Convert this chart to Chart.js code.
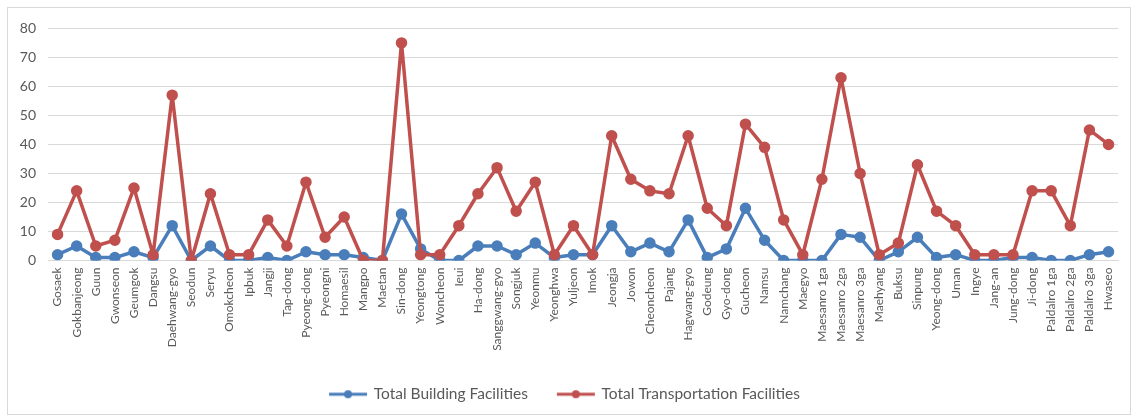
<!DOCTYPE html>
<html>
<head>
<meta charset="utf-8">
<script src="https://cdn.jsdelivr.net/npm/chart.js@4.4.0/dist/chart.umd.min.js"></script>
<style>
  body { margin: 0; background: #fff; }
  #wrap { position: absolute; left: 7px; top: 7px; width: 1122px; height: 406px; border: 1px solid #d9d9d9; }
  canvas { display: block; }
</style>
</head>
<body>
<div id="wrap"><canvas id="chart" width="1122" height="406"></canvas></div>
<script>
// Districts along the x axis
const districts = [
    'Gosaek', 'Gokbanjeong', 'Guun', 'Gwonseon', 'Geumgok', 'Dangsu', 'Daehwang-gyo', 'Seodun',
    'Seryu', 'Omokcheon', 'Ipbuk', 'Jangji', 'Tap-dong', 'Pyeong-dong', 'Pyeongni', 'Homaesil',
    'Mangpo', 'Maetan', 'Sin-dong', 'Yeongtong', 'Woncheon', 'Ieui', 'Ha-dong', 'Sanggwang-gyo',
    'Songjuk', 'Yeonmu', 'Yeonghwa', 'Yuljeon', 'Imok', 'Jeongja', 'Jowon', 'Cheoncheon',
    'Pajang', 'Hagwang-gyo', 'Godeung', 'Gyo-dong', 'Gucheon', 'Namsu', 'Namchang', 'Maegyo',
    'Maesanro 1ga', 'Maesanro 2ga', 'Maesanro 3ga', 'Maehyang', 'Buksu', 'Sinpung', 'Yeong-dong', 'Uman',
    'Ingye', 'Jang-an', 'Jung-dong', 'Ji-dong', 'Paldalro 1ga', 'Paldalro 2ga', 'Paldalro 3ga', 'Hwaseo'
];

const buildingFacilities = [
    2, 5, 1, 1, 3, 1, 12, 0,
    5, 0, 0, 1, 0, 3, 2, 2,
    1, 0, 16, 4, 0, 0, 5, 5,
    2, 6, 1, 2, 2, 12, 3, 6,
    3, 14, 1, 4, 18, 7, 0, 0,
    0, 9, 8, 0, 3, 8, 1, 2,
    0, 0, 1, 1, 0, 0, 2, 3
];

const transportFacilities = [
    9, 24, 5, 7, 25, 2, 57, 0,
    23, 2, 2, 14, 5, 27, 8, 15,
    0, 0, 75, 2, 2, 12, 23, 32,
    17, 27, 2, 12, 2, 43, 28, 24,
    23, 43, 18, 12, 47, 39, 14, 2,
    28, 63, 30, 2, 6, 33, 17, 12,
    2, 2, 2, 24, 24, 12, 45, 40
];

const yTicks = [0, 10, 20, 30, 40, 50, 60, 70, 80];

const BLUE = '#4a7ebb';
const RED = '#c0504d';
const TEXT = '#595959';
const GRID = '#d9d9d9';

// legend marker: short line with a dot in the middle
function legendMarker(color) {
    const c = document.createElement('canvas');
    c.width = 46;
    c.height = 10;
    const ctx = c.getContext('2d');
    ctx.strokeStyle = color;
    ctx.lineWidth = 3;
    ctx.beginPath();
    ctx.moveTo(4, 5);
    ctx.lineTo(42, 5);
    ctx.stroke();
    ctx.fillStyle = color;
    ctx.beginPath();
    ctx.arc(23, 5, 4, 0, Math.PI * 2);
    ctx.fill();
    return c;
}

const ctx = document.getElementById('chart').getContext('2d');
new Chart(ctx, {
    type: 'line',
    data: {
        labels: districts,
        datasets: [
            {
                label: 'Total Building Facilities',
                data: buildingFacilities,
                borderColor: BLUE,
                backgroundColor: BLUE,
                borderWidth: 3.5,
                borderJoinStyle: 'round',
                pointRadius: 4,
                pointStyle: 'circle',
                tension: 0,
                order: 1
            },
            {
                label: 'Total Transportation Facilities',
                data: transportFacilities,
                borderColor: RED,
                backgroundColor: RED,
                borderWidth: 3.5,
                borderJoinStyle: 'round',
                pointRadius: 4,
                pointStyle: 'circle',
                tension: 0,
                order: 0
            }
        ]
    },
    options: {
        responsive: false,
        animation: false,
        layout: { padding: { top: 19, right: 8, bottom: 2, left: 0 } },
        plugins: {
            tooltip: { enabled: false },
            legend: {
                position: 'bottom',
                labels: {
                    usePointStyle: true,
                    pointStyleWidth: 36,
                    padding: 30,
                    color: TEXT,
                    font: { family: 'Lato', size: 15.5 },
                    sort: (a, b) => a.datasetIndex - b.datasetIndex,
                    generateLabels: function(chart) {
                        return chart.data.datasets.map((ds, i) => ({
                            text: ds.label,
                            datasetIndex: i,
                            pointStyle: legendMarker(ds.borderColor),
                            fillStyle: ds.borderColor,
                            strokeStyle: ds.borderColor,
                            lineWidth: 0,
                            fontColor: TEXT
                        }));
                    }
                }
            }
        },
        scales: {
            x: {
                offset: true,
                grid: { display: false, drawTicks: false },
                border: { color: GRID, width: 1 },
                ticks: {
                    autoSkip: false,
                    maxRotation: 90,
                    minRotation: 90,
                    padding: 7,
                    color: TEXT,
                    font: { family: 'Lato', size: 12 }
                },
                afterFit: function(scale) { scale.height = 96; }
            },
            y: {
                min: 0,
                max: 80,
                afterBuildTicks: function(scale) {
                    scale.ticks = yTicks.map(v => ({ value: v }));
                },
                grid: { color: GRID, lineWidth: 1, drawTicks: false },
                border: { display: false },
                ticks: {
                    padding: 12,
                    color: TEXT,
                    font: { family: 'Lato', size: 14 }
                },
                afterFit: function(scale) { scale.width = 40; }
            }
        }
    }
});
</script>
</body>
</html>
